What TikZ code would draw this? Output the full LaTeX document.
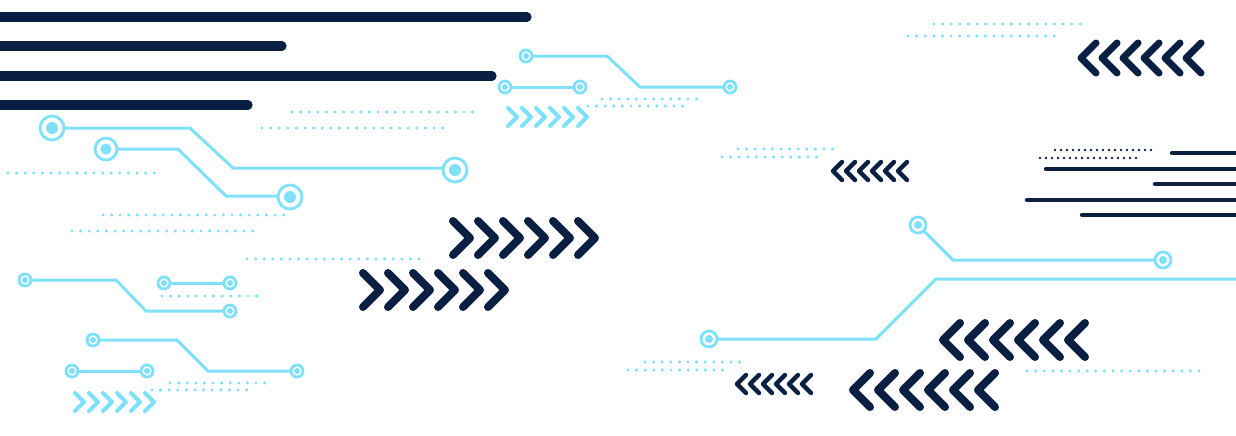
\documentclass[tikz,border=0pt]{standalone}
\definecolor{navy}{HTML}{0B1F42}
\definecolor{lb}{HTML}{7FE0FA}
\tikzset{
 bar/.style={navy,line width=4.6pt,line cap=round},
 thin bar/.style={navy,line width=2.2pt,line cap=round},
 trace/.style={lb,line width=1.5pt},
 dots/.style={lb,line width=1.7pt,line cap=round,dash pattern=on 0pt off 4.3pt},
 ndots/.style={dots,navy,line width=1.3pt,dash pattern=on 0pt off 3pt},
}
\newcommand\ring[3]{% x y r
 \draw[lb,line width=1.4pt,fill=white] (#1,#2) circle (#3);
 \fill[lb] (#1,#2) circle (#3*0.5);}
% x0 y n spacing halfh dir(1/-1) color lw
\newcommand\chevrow[8]{\foreach \i in {1,...,#3}{
 \draw[#7,line width=#8,line cap=round,line join=round]
 ({#1+(\i-1)*#4},{#2-#5}) -- ++({#6*#5},#5) -- ++({-#6*#5},#5);}}
\begin{document}
\begin{tikzpicture}[x=0.5pt,y=-0.5pt]
\useasboundingbox (0,0) rectangle (1236,435);
% navy bars
\draw[bar] (0,17)--(527,17);
\draw[bar] (0,46)--(282,46);
\draw[bar] (0,76)--(492,76);
\draw[bar] (0,105)--(248,105);
% left circuits
\draw[trace] (52,128)--(190,128)--(233,168)--(455,168);
\draw[trace] (106,149)--(178,149)--(226,196)--(290,196);
\ring{52}{128}{12} \ring{106}{149}{11} \ring{455}{170}{12} \ring{290}{197}{12}
\draw[dots] (292,112)--(475,112);
\draw[dots] (262,128)--(446,128);
\draw[dots] (8,173)--(157,173);
\draw[dots] (103,215)--(286,215);
\draw[dots] (72,231)--(257,231);
\draw[dots] (247,259)--(421,259);
% lower-left circuits
\draw[trace] (25,280)--(116,280)--(146,311)--(230,311);
\draw[trace] (164,283)--(230,283);
\draw[trace] (93,340)--(177,340)--(208,371)--(297,371);
\draw[trace] (72,371)--(147,371);
\ring{25}{280}{6} \ring{230}{311}{6} \ring{164}{283}{6} \ring{230}{283}{6}
\ring{93}{340}{6} \ring{297}{371}{6} \ring{72}{371}{6} \ring{147}{371}{6}
\draw[dots] (162,296)--(258,296);
\draw[dots] (170,383)--(266,383);
\draw[dots] (152,390)--(250,390);
\chevrow{75}{402}{6}{14}{9}{1}{lb}{2pt}
% top middle circuit
\draw[trace] (526,56)--(607,56)--(640,87)--(730,87);
\draw[trace] (505,87)--(580,87);
\ring{526}{56}{6} \ring{730}{87}{6} \ring{505}{87}{6} \ring{580}{87}{6}
\chevrow{508}{117}{6}{14}{9}{1}{lb}{2pt}
\draw[dots] (602,99)--(700,99);
\draw[dots] (588,106)--(685,106);
% big navy chevrons
\chevrow{453}{238}{6}{25}{17}{1}{navy}{4pt}
\chevrow{363}{290}{6}{25}{17}{1}{navy}{4pt}
% right side
\draw[dots] (934,24)--(1083,24);
\draw[dots] (908,36)--(1058,36);
\chevrow{1096}{58}{6}{21}{15}{-1}{navy}{3.5pt}
\draw[dots] (738,149)--(833,149);
\draw[dots] (722,157)--(818,157);
\chevrow{842}{171}{6}{13}{9}{-1}{navy}{2.2pt}
\draw[ndots] (1055,150)--(1152,150);
\draw[ndots] (1040,158)--(1137,158);
\draw[thin bar] (1172,153)--(1236,153);
\draw[thin bar] (1046,169)--(1236,169);
\draw[thin bar] (1155,184)--(1236,184);
\draw[thin bar] (1027,200)--(1236,200);
\draw[thin bar] (1082,215)--(1236,215);
\draw[trace] (918,225)--(953,260)--(1163,260);
\draw[trace] (709,339)--(876,339)--(936,279)--(1236,279);
\ring{918}{225}{8} \ring{1163}{260}{8} \ring{709}{339}{8}
\chevrow{960}{340}{6}{25}{17}{-1}{navy}{4pt}
\chevrow{870}{390}{6}{25}{17}{-1}{navy}{4pt}
\chevrow{746}{384}{6}{13}{9}{-1}{navy}{2.2pt}
\draw[dots] (645,362)--(740,362);
\draw[dots] (628,370)--(725,370);
\draw[dots] (1027,371)--(1200,371);
\end{tikzpicture}
\end{document}
